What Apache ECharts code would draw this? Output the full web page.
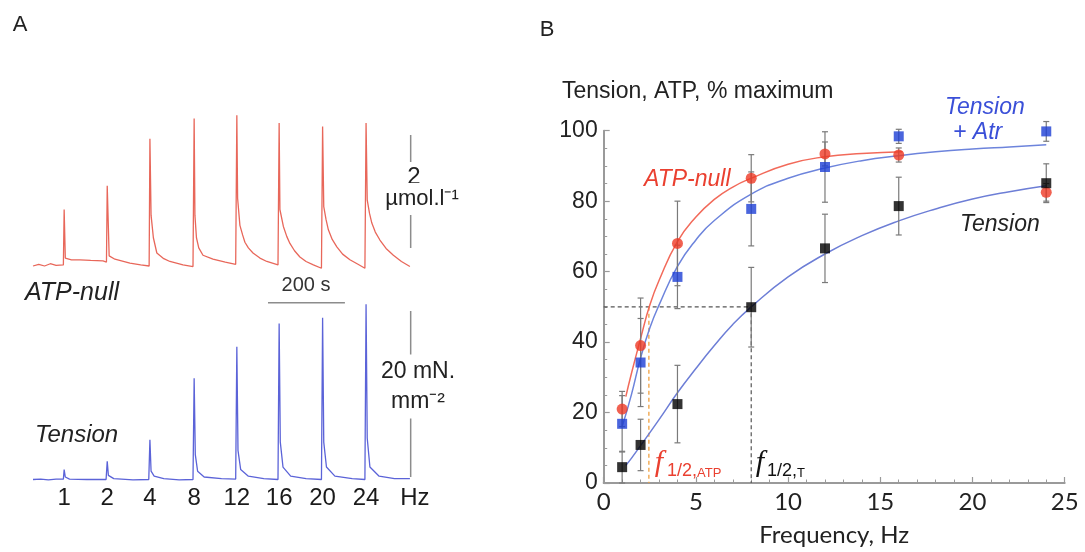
<!DOCTYPE html>
<html><head><meta charset="utf-8">
<script src="https://cdn.jsdelivr.net/npm/echarts@6/dist/echarts.min.js"></script>
<style>html,body{margin:0;padding:0;background:#fff}#c{width:1085px;height:552px}</style>
</head><body><div id="c"></div>
<script>
// ---------- Panel A data (time in s) ----------
const spikeTimes = [81, 193, 304, 419, 530, 640, 753, 866];
const freqLabels = ['1', '2', '4', '8', '12', '16', '20', '24'];
const hzLabelTime = 993;
// ATP-null trace, µmol/l
const atpTrace = [
  [0,0],[15,0.03],[30,0.0],[45,0.04],[60,0.01],[79,0.02],[81,1.0],[84,0.14],[100,0.11],[122,0.11],[150,0.1],[182,0.09],[191,0.07],
  [193,1.42],[198,0.18],[213,0.12],[252,0.05],[280,0.02],[302,0.0],
  [304,2.25],[307,0.9],[313,0.5],[322,0.23],[340,0.13],[356,0.08],[390,0.02],[416,-0.01],
  [419,2.61],[421,0.9],[425,0.5],[431,0.32],[442,0.19],[468,0.12],[500,0.07],[527,0.03],
  [530,2.67],[532,1.2],[538,0.72],[545,0.55],[551,0.42],[560,0.32],[572,0.23],[590,0.14],[608,0.08],[637,0.02],
  [640,2.53],[642,1.0],[651,0.7],[660,0.52],[668,0.4],[680,0.27],[694,0.16],[710,0.08],[729,0.02],[750,-0.04],
  [753,2.47],[756,1.05],[762,0.82],[768,0.64],[778,0.47],[790,0.34],[805,0.21],[824,0.11],[845,0.03],[863,-0.04],
  [866,2.53],[869,1.17],[875,0.93],[881,0.76],[890,0.6],[902,0.46],[918,0.31],[937,0.19],[958,0.08],[980,-0.01]
];
// Tension trace, mN/mm2
const tensionTrace = [
  [0,0],[20,0.05],[40,-0.05],[60,0.05],[79,0.05],[81,1.2],[84,0.3],[95,0.05],[140,0.0],[190,0.0],
  [193,2.2],[196,0.5],[210,0.1],[260,-0.05],[301,0],
  [304,4.8],[307,1.0],[315,0.4],[340,0.1],[380,-0.05],[416,0],
  [419,12.2],[422,3.0],[428,1.0],[445,0.3],[490,0.1],[527,0.05],
  [530,16.0],[533,3.5],[540,1.2],[560,0.4],[600,0.1],[637,0],
  [640,18.8],[643,4.5],[650,1.5],[670,0.4],[710,0.1],[750,0],
  [753,19.5],[756,4.5],[763,1.5],[785,0.4],[830,0.1],[863,0],
  [866,21.1],[869,5.0],[876,1.5],[900,0.4],[940,0.1],[980,0.1]
];
const atpScaleBar = [[982, 0.32], [982, 2.32]];      // 2 µmol/l
const tensionScaleBar = [[982, 0.3], [982, 20.3]];   // 20 mN/mm2
const timeScaleBar = [[611, 21.3], [811, 21.3]];     // 200 s

// ---------- Panel B data ----------
const freqHz = [1, 2, 4, 8, 12, 16, 24];
const atpNull = [21, 39, 68, 86.5, 93.4, 93.1, 82.5];
const atpNullErr = [5, 13.5, 12, 6.7, 3.4, 2, 2.5];
const tensionAtr = [16.8, 34.2, 58.5, 77.8, 89.7, 98.4, 99.8];
const tensionAtrErr = [8, 12.5, 9, 10.5, 10, 2, 2.8];
const tension = [4.5, 10.8, 22.4, 49.9, 66.6, 78.6, 85.1];
const tensionErr = [4.5, 7.3, 11, 11.3, 9.7, 8.2, 5.5];
const atpCurve = [[1.2,24.5],[1.5,31],[2,41],[2.5,50.5],[3,57.5],[4,68.5],[5,75.5],[6,80.5],[7,84],[8,86.5],[10,90.5],[12,92.6],[14,93.5],[16.2,94.0]];
const atrCurve = [[1,16],[1.5,25],[2,35.5],[2.5,44],[3,50.5],[4,61.5],[5,69],[6,74.5],[8,82],[10,86.5],[12,89.4],[14,91.5],[16,92.9],[18,94],[20,94.8],[22,95.4],[24,96]];
const tensionCurve = [[1.2,5],[1.5,7],[2,10.6],[3,18],[4,25.6],[5,32.5],[6,39],[7,45],[8,50],[10,58.5],[12,65],[14,70.2],[16,74.4],[18,77.8],[20,80.6],[22,82.7],[24,84.4]];
const halfLevel = 50;
const fHalfAtp = 2.45;
const fHalfT = 8;
const yTicks = [0, 20, 40, 60, 80, 100];
const xTicks = [0, 5, 10, 15, 20, 25];

const RED = '#ee3a26', BLUE = '#1d3fd4', BLACK = '#000';
const SANS = '"Liberation Sans", Arial, sans-serif';

function errData(vals, errs) { return freqHz.map((f, i) => [f, vals[i] - errs[i], vals[i] + errs[i]]); }
function errRender(params, api) {
  const x = api.value(0), lo = api.value(1), hi = api.value(2);
  const a = api.coord([x, hi]), b = api.coord([x, lo]);
  const st = { stroke: '#7a7a7a', lineWidth: 1.2 };
  return { type: 'group', children: [
    { type: 'line', shape: { x1: a[0], y1: a[1], x2: b[0], y2: b[1] }, style: st },
    { type: 'line', shape: { x1: a[0] - 3, y1: a[1], x2: a[0] + 3, y2: a[1] }, style: st },
    { type: 'line', shape: { x1: b[0] - 3, y1: b[1], x2: b[0] + 3, y2: b[1] }, style: st }
  ]};
}
function pts(vals) { return freqHz.map((f, i) => [f, vals[i]]); }

const chart = echarts.init(document.getElementById('c'), null, { renderer: 'canvas' });
const axisCol = '#9a9a9a';
const hzLabelStyle = { show: true, position: 'inside', fontSize: 24, color: '#1a1a1a', fontFamily: SANS };
const option = {
  animation: false,
  backgroundColor: '#fff',
  grid: [
    { left: 33, top: 96.5, width: 384.6, height: 192.1 },
    { left: 33, top: 280.3, width: 384.6, height: 224.1 },
    { left: 603.7, top: 130.7, width: 461, height: 352.6 }
  ],
  xAxis: [
    { gridIndex: 0, type: 'value', min: 0, max: 1000, show: false },
    { gridIndex: 1, type: 'value', min: 0, max: 1000, show: false },
    { gridIndex: 2, type: 'value', min: xTicks[0], max: xTicks[xTicks.length - 1], interval: 5,
      axisLine: { lineStyle: { color: axisCol, width: 2 } },
      axisTick: { inside: true, length: 6, lineStyle: { color: axisCol, width: 1.2 } },
      minorTick: { show: true, splitNumber: 5, length: 3.5, lineStyle: { color: axisCol, width: 1 } },
      splitLine: { show: false },
      axisLabel: { fontSize: 24, color: '#222', fontFamily: 'Lato', margin: 7 },
      name: 'Frequency, Hz', nameLocation: 'middle', nameGap: 40,
      nameTextStyle: { fontSize: 24, color: '#222', fontFamily: 'Lato' } }
  ],
  yAxis: [
    { gridIndex: 0, type: 'value', min: -0.4, max: 3.0, show: false },
    { gridIndex: 1, type: 'value', min: -3, max: 24, show: false },
    { gridIndex: 2, type: 'value', min: yTicks[0], max: yTicks[yTicks.length - 1], interval: 20,
      axisLine: { show: true, lineStyle: { color: axisCol, width: 2 } },
      axisTick: { show: true, inside: true, length: 6, lineStyle: { color: axisCol, width: 1.2 } },
      minorTick: { show: true, splitNumber: 4, length: 3.5, lineStyle: { color: axisCol, width: 1 } },
      splitLine: { show: false },
      axisLabel: { fontSize: 23, color: '#222', fontFamily: SANS, margin: 6 } }
  ],
  series: [
    { type: 'line', xAxisIndex: 0, yAxisIndex: 0, data: atpTrace, symbol: 'none', lineStyle: { color: '#e8675a', width: 1.3 } },
    { type: 'line', xAxisIndex: 0, yAxisIndex: 0, data: atpScaleBar, symbol: 'none', lineStyle: { color: '#8c8c8c', width: 1.5 } },
    { type: 'line', xAxisIndex: 1, yAxisIndex: 1, data: tensionTrace, symbol: 'none', lineStyle: { color: '#5b63d8', width: 1.3 } },
    { type: 'line', xAxisIndex: 1, yAxisIndex: 1, data: tensionScaleBar, symbol: 'none', lineStyle: { color: '#8c8c8c', width: 1.5 } },
    { type: 'line', xAxisIndex: 1, yAxisIndex: 1, data: timeScaleBar, symbol: 'none', lineStyle: { color: '#8c8c8c', width: 1.5 } },
    { type: 'scatter', xAxisIndex: 1, yAxisIndex: 1, symbolSize: 0, silent: true,
      itemStyle: { color: '#1a1a1a', opacity: 1 },
      data: spikeTimes.map((t, i) => ({ value: [t, -2.23], label: Object.assign({}, hzLabelStyle, { formatter: freqLabels[i] }) }))
        .concat([{ value: [hzLabelTime, -2.23], label: Object.assign({}, hzLabelStyle, { formatter: 'Hz' }) }]),
      label: hzLabelStyle },
    // Panel B
    { type: 'line', xAxisIndex: 2, yAxisIndex: 2, data: atpCurve, smooth: true, symbol: 'none', z: 2, lineStyle: { color: '#f26a5a', width: 1.5 } },
    { type: 'line', xAxisIndex: 2, yAxisIndex: 2, data: atrCurve, smooth: true, symbol: 'none', z: 2, lineStyle: { color: '#6d84dc', width: 1.5 } },
    { type: 'line', xAxisIndex: 2, yAxisIndex: 2, data: tensionCurve, smooth: true, symbol: 'none', z: 2, lineStyle: { color: '#6d7ed6', width: 1.5 } },
    { type: 'line', xAxisIndex: 2, yAxisIndex: 2, data: [[0, halfLevel], [fHalfT, halfLevel], [fHalfT, 0]], symbol: 'none', z: 1, lineStyle: { color: '#555', width: 1.2, type: [4, 3] } },
    { type: 'line', xAxisIndex: 2, yAxisIndex: 2, data: [[fHalfAtp, halfLevel], [fHalfAtp, 0]], symbol: 'none', z: 1, lineStyle: { color: '#f0a040', width: 1.3, type: [4, 3] } },
    { type: 'custom', xAxisIndex: 2, yAxisIndex: 2, renderItem: errRender, data: errData(atpNull, atpNullErr), z: 3 },
    { type: 'custom', xAxisIndex: 2, yAxisIndex: 2, renderItem: errRender, data: errData(tensionAtr, tensionAtrErr), z: 3 },
    { type: 'custom', xAxisIndex: 2, yAxisIndex: 2, renderItem: errRender, data: errData(tension, tensionErr), z: 3 },
    { type: 'scatter', xAxisIndex: 2, yAxisIndex: 2, data: pts(atpNull), symbol: 'circle', symbolSize: 11, z: 4, itemStyle: { color: RED } },
    { type: 'scatter', xAxisIndex: 2, yAxisIndex: 2, data: pts(tensionAtr), symbol: 'rect', symbolSize: 10, z: 5, itemStyle: { color: BLUE } },
    { type: 'scatter', xAxisIndex: 2, yAxisIndex: 2, data: pts(tension), symbol: 'rect', symbolSize: 10, z: 6, itemStyle: { color: BLACK } }
  ],
  graphic: [
    { type: 'text', x: 20, y: 25, style: { text: 'A', fontSize: 22, fontFamily: SANS, fill: '#222', align: 'center', verticalAlign: 'middle' } },
    { type: 'text', x: 547, y: 30, style: { text: 'B', fontSize: 22, fontFamily: SANS, fill: '#222', align: 'center', verticalAlign: 'middle' } },
    { type: 'text', x: 25, y: 293, style: { text: 'ATP-null', fontSize: 25, fontStyle: 'italic', fontFamily: SANS, fill: '#222', align: 'left', verticalAlign: 'middle' } },
    { type: 'text', x: 35, y: 435, style: { text: 'Tension', fontSize: 24, fontStyle: 'italic', fontFamily: SANS, fill: '#222', align: 'left', verticalAlign: 'middle' } },
    { type: 'text', x: 306, y: 285, style: { text: '200 s', fontSize: 20, fontFamily: SANS, fill: '#333', align: 'center', verticalAlign: 'middle' } },
    { type: 'text', x: 414, y: 177, z: 10, style: { text: '2', fontSize: 24, fontFamily: SANS, fill: '#222', align: 'center', verticalAlign: 'middle', backgroundColor: '#fff', padding: [3, 2, 3, 2] } },
    { type: 'text', x: 422, y: 199, z: 10, style: { text: 'µmol.l⁻¹', fontSize: 22, fontFamily: SANS, fill: '#222', align: 'center', verticalAlign: 'middle', backgroundColor: '#fff', padding: [4, 2, 6, 2] } },
    { type: 'text', x: 418, y: 372, z: 10, style: { text: '20 mN.', fontSize: 23, fontFamily: SANS, fill: '#222', align: 'center', verticalAlign: 'middle', backgroundColor: '#fff', padding: [10, 2, 2, 2] } },
    { type: 'text', x: 418, y: 402, z: 10, style: { text: 'mm⁻²', fontSize: 23, fontFamily: SANS, fill: '#222', align: 'center', verticalAlign: 'middle', backgroundColor: '#fff', padding: [2, 2, 8, 2] } },
    { type: 'text', x: 562, y: 92, style: { text: 'Tension, ATP, % maximum', fontSize: 23, fontFamily: SANS, fill: '#222', align: 'left', verticalAlign: 'middle' } },
    { type: 'text', x: 644, y: 180, style: { text: 'ATP-null', fontSize: 23, fontStyle: 'italic', fontFamily: SANS, fill: '#ea4030', align: 'left', verticalAlign: 'middle' } },
    { type: 'text', x: 945, y: 108, style: { text: 'Tension', fontSize: 23, fontStyle: 'italic', fontFamily: SANS, fill: '#3a4fd8', align: 'left', verticalAlign: 'middle' } },
    { type: 'text', x: 953, y: 133, style: { text: '+ Atr', fontSize: 23, fontStyle: 'italic', fontFamily: SANS, fill: '#3a4fd8', align: 'left', verticalAlign: 'middle' } },
    { type: 'text', x: 960, y: 225, style: { text: 'Tension', fontSize: 23, fontStyle: 'italic', fontFamily: SANS, fill: '#222', align: 'left', verticalAlign: 'middle' } },
    { type: 'text', x: 659, y: 463, style: { text: 'f', fontSize: 30, fontStyle: 'italic', fontFamily: '"Liberation Serif", serif', fill: '#ea4030', align: 'center', verticalAlign: 'middle' } },
    { type: 'text', x: 667, y: 471, style: { text: '{a|1/2,}{b|ATP}', align: 'left', verticalAlign: 'middle',
        rich: { a: { fontSize: 18, fontFamily: SANS, fill: '#ea4030', verticalAlign: 'bottom' }, b: { fontSize: 13, fontFamily: SANS, fill: '#ea4030', verticalAlign: 'bottom' } } } },
    { type: 'text', x: 760, y: 463, style: { text: 'f', fontSize: 30, fontStyle: 'italic', fontFamily: '"Liberation Serif", serif', fill: '#111', align: 'center', verticalAlign: 'middle' } },
    { type: 'text', x: 767, y: 471, style: { text: '{a|1/2,}{b|T}', align: 'left', verticalAlign: 'middle',
        rich: { a: { fontSize: 18, fontFamily: SANS, fill: '#111', verticalAlign: 'bottom' }, b: { fontSize: 13, fontFamily: SANS, fill: '#111', verticalAlign: 'bottom' } } } }
  ]
};
chart.setOption(option);
</script></body></html>
